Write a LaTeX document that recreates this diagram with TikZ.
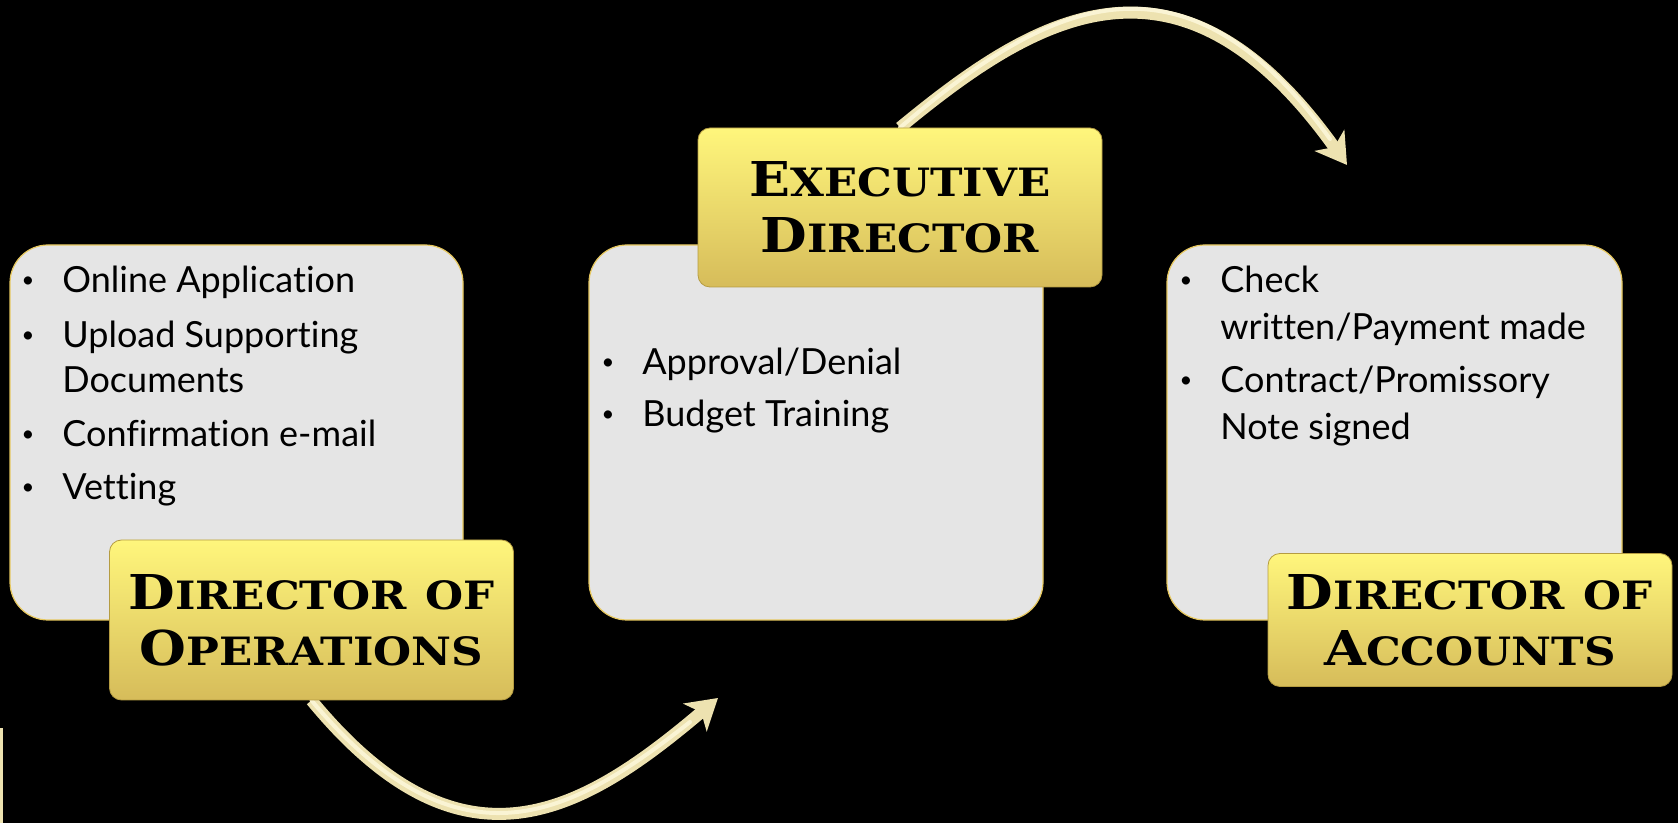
\documentclass[tikz,border=0pt]{standalone}
\usepackage{fontspec}
\setmainfont{Lato}[Ligatures={NoCommon}]
\newfontfamily\titlefont{DejaVu Serif}[FakeStretch=1.12]
\usetikzlibrary{arrows.meta,calc}

\definecolor{slidebg}{HTML}{000000}
\definecolor{boxgrey}{HTML}{E5E5E5}
\definecolor{boxedge}{HTML}{E6C75E}
\definecolor{titletop}{HTML}{FFF67C}
\definecolor{titlebot}{HTML}{D6BC5A}
\definecolor{titleedge}{HTML}{B59C42}
\definecolor{arrowcol}{HTML}{EDE2B0}
\definecolor{arrowhi}{HTML}{FAF4D4}

% big first letter, smaller rest (copperplate look)
\newcommand{\cpw}[2]{{\fontsize{24pt}{28pt}\selectfont #1}{\fontsize{19.5pt}{28pt}\selectfont #2}}
% bullet hanging left of the text
\newcommand{\bul}{\llap{{\fontsize{11pt}{11pt}\selectfont\raisebox{2.5pt}{\textbullet}}\hspace{14pt}}}

\pgfdeclarelayer{back}
\pgfsetlayers{back,main}

\begin{document}
\begin{tikzpicture}[x=0.5pt, y=-0.5pt,
    greybox/.style={draw=boxedge, line width=0.6pt, fill=boxgrey, rounded corners=19pt, inner sep=0pt},
    titlebox/.style={draw=titleedge, line width=0.4pt, top color=titletop, bottom color=titlebot,
        rounded corners=6pt, inner sep=0pt, align=center, minimum width=202pt,
        font=\titlefont\bfseries\fontsize{24pt}{28pt}\selectfont},
    line/.style={anchor=base west, inner sep=0pt, font=\fontsize{18pt}{22pt}\selectfont},
    flow/.style={arrowcol, line width=6pt, -{Stealth[length=15pt, width=18pt, inset=4pt]}},
    glint/.style={arrowhi, line width=2pt, line cap=round}]

    % background and the page frame
    \useasboundingbox (0,0) rectangle (1678,823);
    \begin{pgfonlayer}{back}
    \fill[slidebg] (0,0) rectangle (1678,823);
    \end{pgfonlayer}

    % the grey panels
    \node[greybox, minimum width=226.5pt, minimum height=187.5pt] (opsbox) at (236.5,432.5) {};
    \node[greybox, minimum width=227pt, minimum height=187.5pt] (execbox) at (816,432.5) {};
    \node[greybox, minimum width=227.5pt, minimum height=187.5pt] (acctbox) at (1394.5,432.5) {};

    % the texts in the panels
    \node[line] (ops1) at (62,293) {\bul Online Application};
    \node[line] (ops2) at (62,348) {\bul Upload Supporting};
    \node[line] (ops3) at (62,393) {Documents};
    \node[line] (ops4) at (62,447) {\bul Confirmation e-mail};
    \node[line] (ops5) at (62,500) {\bul Vetting};
    %
    \node[line] (exec1) at (642,375) {\bul Approval/Denial};
    \node[line] (exec2) at (642,427) {\bul Budget Training};
    %
    \node[line] (acct1) at (1220,293) {\bul Check};
    \node[line] (acct2) at (1220,340) {written/Payment made};
    \node[line] (acct3) at (1220,393) {\bul Contract/Promissory};
    \node[line] (acct4) at (1220,440) {Note signed};

    % the yellow titles
    \node[titlebox, minimum height=80pt] (ops) at (311.5,620) {\cpw{D}{IRECTOR} \cpw{}{OF}\\\cpw{O}{PERATIONS}};
    \node[titlebox, minimum height=79.5pt] (exec) at (900,207.5) {\cpw{E}{XECUTIVE}\\\cpw{D}{IRECTOR}};
    \node[titlebox, minimum height=66.5pt] (acct) at (1470,620) {\cpw{D}{IRECTOR} \cpw{}{OF}\\\cpw{A}{CCOUNTS}};

    % the free ends of the arrows
    \coordinate (tip1) at (718,698);
    \coordinate (tip2) at (1347,165);

    % draw the arrows (behind the boxes)
    \begin{pgfonlayer}{back}
    \draw[flow] (ops.south) .. controls (462,883) and (581,814) .. (tip1);
    \draw[flow] (exec.north) .. controls (1034,17) and (1178,-72) .. (tip2);
    \draw[glint] (ops.south) .. controls (462,880) and (575,812) .. ($(tip1)+(-28,24)$);
    \draw[glint] (exec.north) .. controls (1034,14) and (1176,-75) .. ($(tip2)+(-17,-26)$);
    \fill[arrowcol] (0,728) rectangle (2.5,823);
    \end{pgfonlayer}
\end{tikzpicture}
\end{document}
